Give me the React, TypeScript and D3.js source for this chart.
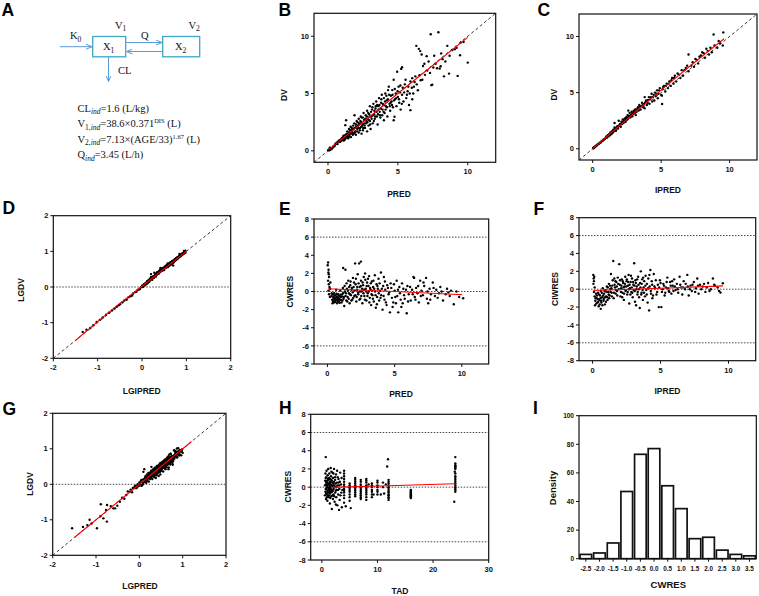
import React from 'react';
import * as d3 from 'd3';

type P = [number, number];

// ---------- DATA ----------
// Panel B: PRED vs DV
const predDV: P[] = [
  [0.028,0.058],[0.05,0.063],[0.063,0.071],[0.071,0.1],[0.079,0.079],[0.105,0.058],[0.126,0.126],[0.129,0.275],[0.148,0.11],[0.17,0.19],[0.178,0.089],[0.18,0.26],[0.22,0.24],[0.25,0.21],[0.275,0.21],[0.31,0.25],[0.355,0.32],[0.4,0.42],[0.45,0.39],[0.5,0.5],[0.54,0.63],[0.63,0.71],[0.71,0.79],[0.79,0.89],[0.83,0.91],[0.89,0.83],[1.0,1.12],
  [1.05,1.0],[1.1,1.3],[1.15,0.95],[1.2,1.1],[1.24,2.24],[1.3,2.67],[1.3,1.2],[1.35,1.5],[1.4,1.3],[1.45,1.1],[1.5,1.6],[1.5,1.9],[1.55,1.4],[1.6,1.8],[1.65,1.2],[1.7,2.0],[1.75,1.6],[1.8,2.2],[1.85,1.5],[1.9,3.1],[1.9,2.0],[1.95,1.7],[2.0,2.3],[2.0,1.4],[2.05,2.6],[2.1,1.9],[2.15,2.2],[2.2,1.6],[2.2,2.8],[2.25,2.4],[2.3,2.0],[2.35,3.0],[2.4,2.5],[2.4,1.5],[2.45,2.2],[2.5,2.9],[2.5,1.8],[2.55,3.3],[2.6,2.4],[2.65,2.0],[2.7,3.1],[2.75,2.6],[2.8,1.7],[2.8,3.5],[2.85,2.8],[2.9,2.2],[2.95,3.2],[3.0,2.6],[3.0,3.9],[3.05,1.9],[3.1,3.0],[3.15,3.6],[3.2,2.4],[3.25,4.1],[3.3,3.2],[3.35,2.8],[3.4,3.7],[3.45,4.3],[3.5,3.0],[3.55,2.3],[3.6,3.9],[3.65,4.6],[3.7,3.4],[3.75,2.9],[3.8,4.2],[3.85,4.9],[3.9,3.6],[3.88,3.1],[3.95,4.0],[4.0,2.67],[4.0,4.6],[4.05,3.3],[4.1,5.0],[4.15,3.9],[4.2,4.4],[4.25,3.0],[4.3,5.3],[4.35,5.6],[4.4,4.1],[4.45,3.5],[4.5,4.8],[4.55,4.3],[4.6,5.3],[4.65,3.8],[4.7,6.2],[4.7,2.67],[4.76,2.97],[4.8,4.5],[4.85,5.0],[4.9,3.9],[4.95,6.9],[5.0,4.7],[5.05,5.6],[5.1,4.2],[5.15,5.1],[5.2,3.6],[5.24,7.15],[5.3,7.3],[5.3,4.9],[5.35,5.5],[5.4,4.3],[5.5,5.8],[5.6,4.6],[5.7,5.2],[5.8,4.0],[5.9,3.55],[5.9,6.05],[6.0,5.5],[6.03,4.5],[6.03,6.34],[6.1,5.0],[6.2,6.0],[6.32,9.16],[6.43,5.29],[6.5,8.9],[6.6,8.7],[6.63,6.16],[6.7,8.4],[6.8,7.4],[6.94,6.63],[7.06,8.26],[7.1,7.0],[7.35,10.17],[7.4,5.73],[7.46,5.78],[7.54,7.27],[7.7,7.6],[7.9,10.35],[7.99,7.18],[8.06,7.38],[8.2,8.0],[8.3,6.5],[8.54,9.16],[8.66,6.74],[8.9,8.8],[9.07,8.87],[9.28,6.54],[9.45,8.34],[9.5,9.45],[9.7,9.5],[10.0,7.7],
  [0.6,0.62],[0.68,0.6],[0.75,0.8],[0.85,0.78],[0.92,1.0],[0.97,0.9],[1.08,1.15],[1.12,0.9],[1.18,1.35],[1.22,1.0],[1.28,1.4],[1.33,1.15],[1.38,1.7],[1.42,1.2],[1.48,1.45],[1.52,1.25],[1.58,1.6],[1.62,2.1],[1.68,1.5],[1.72,1.8],[1.78,1.4],[1.82,1.9],[1.88,2.4],[1.92,1.6],[1.98,2.0],[2.02,2.1],[2.08,1.7],[2.12,2.5],[2.18,2.0],[2.22,2.3],[2.28,1.8],[2.32,2.6],[2.38,2.1],[2.42,2.9],[2.48,2.3],[2.52,2.0],[2.58,2.7],[2.62,2.2],[2.68,2.8],[2.72,2.4],[2.78,3.0],[2.82,2.5],[2.88,3.3],[2.92,2.7],[2.98,3.0],[3.02,2.3],[3.08,3.4],[3.12,2.8],[3.18,3.8],[3.22,3.1],[3.28,2.6],[3.32,3.5],[3.38,3.0],[3.42,3.9],[3.48,3.4],[3.52,4.0],[3.58,3.2],[3.62,3.6],[3.68,4.0],[3.72,3.1],[3.78,3.7],[3.82,4.5],[3.92,4.1],[3.98,3.4],[4.02,4.0],[4.08,4.3],[4.12,3.6],[4.18,4.8],[4.22,3.8],[4.28,4.5],[4.38,4.9],[4.42,3.9],[4.48,4.2],[4.58,4.0],[4.62,4.9],[4.72,4.4],[4.78,5.4],[4.88,4.6],[4.98,5.2],[5.08,4.5],[5.18,5.7],[5.28,4.1],[5.45,5.1],[5.55,6.2],[5.65,4.9],[5.75,5.6],[5.85,5.0],[6.15,5.6],[6.25,6.5],[6.35,5.8],[6.55,6.6],[6.75,6.2],[6.9,7.6],[7.2,7.8],[7.3,6.8],[7.6,8.3],[7.8,7.2],[8.1,8.5],[8.4,7.8],[8.7,8.3],[9.2,9.0]
];
// Panel C: IPRED vs DV
const ipredDV: P[] = [
  [0.046,0.055],[0.056,0.063],[0.068,0.071],[0.08,0.085],[0.095,0.105],[0.112,0.12],[0.13,0.14],[0.155,0.166],[0.18,0.19],[0.21,0.22],[0.24,0.25],[0.27,0.28],[0.3,0.31],[0.32,0.33],[0.36,0.37],[0.4,0.42],[0.45,0.44],[0.5,0.52],[0.55,0.55],[0.6,0.58],[0.63,0.66],[0.7,0.72],[0.75,0.74],[0.8,0.83],[0.85,0.85],[0.9,0.88],[0.95,0.98],
  [1.0,1.05],[1.05,1.0],[1.1,1.2],[1.15,1.1],[1.2,1.3],[1.25,1.2],[1.3,1.45],[1.35,1.3],[1.4,1.55],[1.45,1.4],[1.5,1.7],[1.5,1.5],[1.55,1.6],[1.6,1.9],[1.65,1.7],[1.7,1.6],[1.75,1.9],[1.8,2.0],[1.85,1.8],[1.9,2.5],[1.95,2.1],[2.0,2.2],[2.05,1.95],[2.1,2.4],[2.15,2.2],[2.2,2.6],[2.25,2.3],[2.3,2.5],[2.35,2.7],[2.4,2.4],[2.45,2.8],[2.5,2.6],[2.55,3.0],[2.6,2.7],[2.65,2.9],[2.7,3.2],[2.75,2.8],[2.8,3.0],[2.85,3.3],[2.9,2.9],[2.95,3.1],[3.0,3.4],[3.05,3.2],[3.1,3.5],[3.15,3.0],[3.2,3.3],[3.3,3.7],[3.35,3.4],[3.4,3.9],[3.5,3.5],[3.55,3.8],[3.6,4.1],[3.7,3.7],[3.75,4.0],[3.8,3.6],[3.9,4.3],[3.95,3.9],[4.0,4.1],[4.1,4.6],[4.15,4.0],[4.2,4.4],[4.3,4.9],[4.35,4.2],[4.4,4.6],[4.5,4.3],[4.55,5.0],[4.6,4.7],[4.7,5.2],[4.75,4.5],[4.8,4.9],[4.9,5.4],[5.0,4.8],[5.05,4.73],[5.07,3.98],[5.1,5.3],[5.2,5.6],[5.3,5.1],[5.4,5.8],[5.5,5.4],[5.6,6.0],[5.7,5.6],[5.8,6.3],[5.9,5.8],[6.0,6.5],[6.1,6.0],[6.2,6.7],[6.4,6.3],[6.5,7.0],[6.6,6.5],[6.8,7.2],[7.0,8.4],[7.0,6.9],[7.2,7.4],[7.4,7.3],[7.5,8.0],[7.7,7.6],[7.8,8.2],[8.0,8.6],[8.2,8.1],[8.3,8.9],[8.5,8.4],[8.6,9.0],[8.83,10.18],[8.9,9.2],[9.1,9.0],[9.3,9.4],[9.54,10.36],[9.5,9.2],
  [1.02,1.1],[1.12,1.15],[1.22,1.25],[1.32,1.35],[1.42,1.5],[1.52,1.6],[1.62,1.75],[1.72,1.8],[1.82,1.95],[1.92,2.05],[2.02,2.15],[2.12,2.25],[2.22,2.4],[2.32,2.45],[2.42,2.6],[2.52,2.75],[2.62,2.85],[2.72,2.95],[2.82,3.05],[2.92,3.15],[3.02,3.25],[3.12,3.3],[3.22,3.5],[3.32,3.55],[3.45,3.75],[3.62,3.85],[3.72,3.95],[3.85,4.15],[4.05,4.35],[4.25,4.6],[4.45,4.8],[4.65,4.9],[4.85,5.2],[5.15,5.5],[5.35,5.6],[5.55,5.8],[5.75,6.1],[5.95,6.3],[6.3,6.6],[6.7,7.0],[6.9,7.4],[7.3,7.7],[7.6,7.9],[7.9,8.3],[8.1,8.5],[8.4,8.7],[8.7,8.6],[9.2,9.6],[1.6,2.3],[2.6,3.4],[3.8,4.6]
];
// Panel E: PRED vs CWRES
const predCWRES: P[] = [
  [0.05,3.2],[0.02,2.9],[0.07,2.1],[0.1,1.9],[0.08,2.4],[0.12,1.6],[0.05,1.2],[0.1,0.8],[0.15,0.5],[0.08,0.1],[0.12,-0.3],[0.18,-0.6],[0.2,0.3],[0.22,1.0],
  [0.3,-0.5],[0.35,-0.9],[0.4,-0.3],[0.42,-1.1],[0.45,-0.7],[0.5,-0.2],[0.5,-1.2],[0.55,-0.8],[0.6,-0.4],[0.62,-1.0],[0.65,0.2],[0.7,-0.6],[0.72,-1.3],[0.75,-0.9],[0.8,-0.3],[0.82,-0.7],[0.85,-1.1],[0.9,-0.5],[0.95,0.1],[0.95,-0.9],[1.0,-0.6],[1.05,-1.2],[1.1,-0.3],[1.15,0.4],[1.17,2.6],[1.2,-0.8],[1.25,-1.6],[1.3,0.0],[1.34,2.4],[1.35,-0.5],[1.4,-1.0],[1.45,0.3],[1.5,-0.6],[1.55,1.2],[1.6,-0.2],[1.65,-1.3],[1.7,0.7],[1.75,-0.4],[1.8,0.2],[1.85,-0.9],[1.9,1.5],[1.95,0.5],[2.0,-0.5],[2.06,3.1],[2.1,0.8],[2.15,-1.1],[2.2,0.2],[2.25,1.9],[2.3,-0.3],[2.36,3.1],[2.4,0.5],[2.45,-0.8],[2.49,3.3],[2.5,1.2],[2.55,0.0],[2.6,-1.3],[2.65,0.7],[2.7,1.6],[2.75,-0.5],[2.8,2.0],[2.85,0.3],[2.9,-1.0],[2.95,1.0],[3.0,-0.2],[3.05,0.6],[3.1,1.7],[3.15,-0.7],[3.2,0.2],[3.25,-1.5],[3.3,1.1],[3.35,-0.4],[3.4,0.5],[3.45,-1.1],[3.53,1.8],[3.55,0.0],[3.6,-1.8],[3.65,0.8],[3.7,-0.6],[3.75,0.3],[3.8,1.4],[3.85,-1.0],[3.9,0.1],[3.98,2.1],[4.0,-0.4],[4.1,-2.0],[4.15,0.6],[4.2,1.6],[4.25,-0.9],[4.3,0.2],[4.4,-1.5],[4.5,0.4],[4.55,-0.3],[4.65,-2.3],[4.7,0.9],[4.8,-0.7],[4.9,-1.2],[5.0,0.1],[5.1,-1.3],[5.15,1.2],[5.2,-0.5],[5.27,-2.3],[5.35,0.5],[5.4,-0.2],[5.5,-1.7],[5.6,-1.3],[5.65,0.3],[5.75,-0.8],[5.9,-2.4],[5.95,0.6],[6.05,-0.3],[6.2,-1.0],[6.3,0.2],[6.4,1.6],[6.5,-0.6],[6.6,0.4],[6.7,-0.2],[6.8,-1.2],[6.9,1.2],[7.0,0.1],[7.1,-0.4],[7.2,0.6],[7.34,1.5],[7.4,-0.8],[7.5,-1.3],[7.6,0.3],[7.7,-0.3],[7.84,1.0],[8.0,-0.5],[8.1,0.2],[8.3,-0.2],[8.4,0.5],[8.6,-1.0],[8.8,-0.3],[9.0,-0.1],[9.2,0.1],[9.4,-1.4],[9.6,0.0],[9.8,-0.6],[10.1,-0.75],
  [0.32,-0.2],[0.38,-1.3],[0.44,-0.6],[0.48,-0.95],[0.52,-0.45],[0.58,-1.15],[0.63,-0.65],[0.68,-0.25],[0.73,-0.8],[0.78,-1.1],[0.83,-0.45],[0.88,-0.85],[0.92,-1.25],[0.98,-0.35],[1.02,-0.95],[1.08,-0.55],[1.12,-1.0],[1.18,-0.15],[1.22,-0.6],[1.28,0.6],[1.38,-0.2],[1.42,0.9],[1.48,-1.1],[1.52,0.1],[1.58,-0.8],[1.62,0.5],[1.68,-0.3],[1.72,1.1],[1.78,-1.0],[1.82,0.4],[1.88,-0.1],[1.92,-0.7],[1.98,1.0],[2.02,0.1],[2.08,-0.4],[2.12,1.4],[2.18,-0.6],[2.22,0.5],[2.28,-0.1],[2.32,0.9],[2.38,-0.9],[2.42,0.0],[2.48,0.6],[2.52,-0.5],[2.58,0.3],[2.62,1.0],[2.68,-0.2],[2.72,0.2],[2.78,-0.9],[2.82,1.3],[2.88,0.0],[2.92,0.6],[2.98,-0.5],[3.02,1.4],[3.08,0.0],[3.12,-1.2],[3.18,0.4],[3.22,0.9],[3.28,-0.3],[3.32,0.1],[3.38,-0.8],[3.42,1.2],[3.48,0.3],[3.58,-0.4],[3.68,-1.4],[3.72,0.6],[3.82,-0.2],[3.88,0.9],[3.95,-0.7],[4.05,0.3],[4.18,-0.5],[4.28,1.1],[4.35,-1.2],[4.45,0.7],[4.6,-0.1],[4.75,0.4],[4.85,-1.7],[4.95,0.8],[5.05,-0.6],[5.25,0.2],[5.45,-0.9],[5.55,0.9],[5.7,-0.4],[5.85,0.2],[6.0,-1.1],[6.15,0.5],[6.35,-0.3],[6.45,1.5],[6.55,-0.9],[6.75,0.6],[6.95,-0.5],[7.15,1.0],[7.45,0.0],[7.65,-0.9],[7.9,0.4],[8.2,-0.7],[8.5,0.0],[8.9,0.3],[9.1,-0.5]
];
// Panel F: IPRED vs CIWRES
const ipredCIWRES: P[] = [
  [0.05,1.6],[0.08,1.2],[0.1,0.9],[0.06,0.6],[0.12,1.4],[0.15,0.2],[0.1,-0.3],[0.15,-0.8],[0.2,-1.3],[0.18,-1.8],[0.25,-0.5],
  [0.3,-1.0],[0.35,-1.5],[0.4,-0.4],[0.45,-1.9],[0.5,-1.2],[0.55,-0.7],[0.6,-2.2],[0.6,-0.2],[0.65,-1.5],[0.7,-0.9],[0.75,0.1],[0.8,-1.3],[0.85,-0.5],[0.9,-1.7],[0.95,-0.1],[1.0,-0.8],[1.05,0.3],[1.1,-1.2],[1.15,-0.3],[1.2,0.6],[1.25,-0.7],[1.3,0.0],[1.35,1.7],[1.4,-0.4],[1.45,0.4],[1.52,3.16],[1.55,-1.0],[1.6,1.2],[1.65,0.2],[1.7,-0.5],[1.75,0.8],[1.8,-0.2],[1.85,1.3],[1.96,2.8],[2.0,0.5],[2.05,-0.8],[2.1,0.1],[2.15,1.1],[2.2,-0.4],[2.25,0.7],[2.3,-1.2],[2.35,0.3],[2.4,1.4],[2.45,-0.1],[2.5,0.9],[2.55,-0.6],[2.6,0.4],[2.65,1.6],[2.7,-1.6],[2.75,0.1],[2.8,0.8],[2.85,-0.3],[2.9,1.2],[2.95,-0.9],[3.0,0.5],[3.06,2.9],[3.1,-0.2],[3.15,1.0],[3.2,-1.8],[3.25,0.3],[3.3,-0.6],[3.35,1.4],[3.4,0.0],[3.47,-2.1],[3.5,0.7],[3.55,2.0],[3.6,-0.4],[3.65,1.1],[3.7,-1.2],[3.75,0.2],[3.8,0.9],[3.85,-0.8],[3.9,1.5],[3.95,-0.1],[4.0,0.6],[4.05,-1.5],[4.1,1.2],[4.16,-2.37],[4.2,0.3],[4.25,2.15],[4.3,-0.5],[4.35,0.9],[4.4,-1.0],[4.5,1.7],[4.6,0.1],[4.7,-0.6],[4.8,0.5],[4.87,-2.0],[4.95,1.0],[5.06,-2.0],[5.1,-0.3],[5.2,0.6],[5.3,-0.7],[5.4,0.2],[5.5,1.3],[5.6,-0.2],[5.7,0.8],[5.8,-0.5],[5.9,0.4],[6.0,1.1],[6.1,-0.1],[6.2,0.6],[6.3,-0.4],[6.4,1.4],[6.5,0.2],[6.6,-0.6],[6.7,0.9],[6.8,0.0],[6.97,1.6],[7.07,-0.7],[7.2,0.4],[7.3,-0.2],[7.45,0.8],[7.6,0.1],[7.7,1.2],[7.8,-0.5],[7.9,0.5],[8.1,0.3],[8.3,-0.3],[8.5,0.7],[8.7,0.0],[8.85,1.2],[9.0,0.4],[9.2,0.2],[9.41,-0.37],[9.58,0.67],
  [0.22,-1.0],[0.28,-1.6],[0.32,-0.7],[0.38,-1.1],[0.42,-1.4],[0.48,-0.6],[0.52,-1.7],[0.58,-1.0],[0.62,-1.3],[0.68,-0.4],[0.72,-1.8],[0.78,-0.7],[0.82,-1.1],[0.88,-0.2],[0.92,-0.9],[0.98,-1.4],[1.02,-0.3],[1.08,-0.9],[1.12,0.2],[1.18,-0.6],[1.22,-1.0],[1.28,0.4],[1.32,-0.3],[1.38,0.1],[1.42,-0.8],[1.48,1.0],[1.58,-0.4],[1.62,0.5],[1.68,0.9],[1.72,-0.1],[1.78,0.3],[1.82,-0.7],[1.88,0.6],[1.92,0.0],[2.02,1.0],[2.08,-0.3],[2.12,0.4],[2.18,-0.9],[2.22,0.9],[2.28,0.2],[2.32,-0.5],[2.38,0.6],[2.42,-0.2],[2.48,0.3],[2.52,1.1],[2.58,-0.3],[2.62,0.8],[2.68,0.0],[2.72,0.5],[2.78,-0.6],[2.82,1.5],[2.88,0.2],[2.92,-0.4],[2.98,0.8],[3.02,-0.1],[3.08,0.4],[3.12,-1.4],[3.18,0.7],[3.22,0.0],[3.28,1.1],[3.32,-0.3],[3.38,0.5],[3.42,-0.9],[3.52,0.2],[3.58,-0.6],[3.62,0.6],[3.68,-0.1],[3.72,1.3],[3.78,-0.4],[3.88,0.4],[3.98,-0.6],[4.08,0.1],[4.18,1.6],[4.28,-0.2],[4.38,0.5],[4.45,-0.7],[4.55,0.3],[4.65,1.0],[4.75,-0.3],[4.9,0.2],[5.0,0.7],[5.15,0.0],[5.25,0.4],[5.35,-0.4],[5.45,0.8],[5.55,0.1],[5.65,-0.3],[5.75,0.4],[5.85,0.9],[5.95,-0.2],[6.05,0.3],[6.25,0.0],[6.45,0.5],[6.65,0.2],[6.85,0.6],[7.0,0.3],[7.15,0.0],[7.35,0.5],[7.55,-0.3],[7.75,0.4],[8.0,0.0],[8.2,0.6],[8.4,0.2],[8.6,-0.2],[8.95,0.5],[9.3,-0.2]
];
// Panel H: TAD vs CWRES
const tadCWRES: P[] = [
  [0.6,0.2],[0.65,-0.5],[0.7,3.3],[0.7,1.0],[0.75,-1.3],[0.8,0.5],[0.8,-0.2],[0.85,1.8],[0.9,-0.8],[0.9,0.0],[0.95,0.7],[1.0,-1.5],[1.0,-0.4],[1.05,1.3],[1.1,0.3],[1.1,-0.9],[1.15,2.0],[1.2,-0.1],[1.2,0.8],[1.25,-1.1],[1.3,0.4],[1.3,-0.6],[1.35,1.5],[1.4,-0.3],[1.4,0.1],[1.45,-1.8],[1.5,0.9],[1.5,-0.7],[1.55,0.5],[1.6,2.1],[1.6,-0.2],[1.65,1.2],[1.7,-1.0],[1.75,0.2],[1.8,-2.4],[1.8,0.7],[1.85,-0.5],[1.9,1.6],[1.95,0.0],[2.0,-1.3],[2.0,1.0],[2.05,0.4],[2.1,-0.8],[2.2,2.0],[2.25,0.2],[2.3,-1.6],[2.4,0.8],[2.5,-0.4],[2.55,1.4],[2.6,-1.1],[2.7,0.5],[2.8,-2.0],[2.85,1.1],[2.9,-0.3],[3.0,0.9],[3.1,-2.5],[3.1,0.2],[3.2,-1.4],[3.3,1.6],[3.5,-0.6],[3.6,-2.2],
  [0.55,-0.9],[0.6,0.7],[0.65,1.5],[0.7,-0.2],[0.72,0.3],[0.78,-0.7],[0.82,1.1],[0.88,0.2],[0.92,-1.1],[0.98,0.5],[1.02,0.0],[1.08,-0.6],[1.12,0.9],[1.18,-0.3],[1.22,0.3],[1.28,-0.9],[1.32,1.0],[1.38,-0.5],[1.42,0.6],[1.48,-0.1],[1.52,-1.2],[1.58,0.3],[1.62,-0.5],[1.68,0.8],[1.72,1.7],[1.78,-0.3],[1.82,0.1],[1.88,-0.9],[1.92,0.5],[1.98,-0.4],[2.02,0.2],[2.08,1.5],[2.12,-0.2],[2.18,0.6],[2.22,-1.0],[2.28,0.0],[2.35,1.1],[2.42,-0.6],[2.48,0.4],[2.52,-1.9],[2.58,0.0],[2.65,-0.3],[2.75,1.8],[2.82,0.2],[2.95,-0.8],[3.02,0.5],[3.15,-0.2],[3.25,0.6],[3.35,-0.9],[3.45,0.3],[3.55,1.0],[3.7,-0.3],
  [4.0,1.8],[4.0,1.5],[4.0,1.2],[4.0,0.9],[4.0,0.6],[4.0,0.3],[4.0,0.1],[4.0,-0.2],[4.0,-0.4],[4.0,-0.6],[4.0,-0.9],[4.0,-1.2],[4.0,-1.7],[4.3,-2.1],
  [5.0,0.4],[5.0,0.2],[5.0,0.0],[5.0,-0.1],[5.0,-0.3],[5.0,-0.5],[5.0,-0.8],[5.0,-1.1],[5.2,-2.3],[5.0,-1.5],
  [6.0,1.0],[6.0,0.8],[6.0,0.6],[6.0,0.4],[6.0,0.2],[6.0,0.0],[6.0,-0.2],[6.0,-0.4],[6.0,-0.6],[6.0,-0.8],[6.0,-1.0],
  [7.0,0.8],[7.0,0.6],[7.0,0.3],[7.0,0.1],[7.0,-0.1],[7.0,-0.3],[7.0,-0.5],[7.0,-0.7],[7.0,-0.9],[7.0,-1.1],[7.0,-1.3],
  [8.0,0.9],[8.0,0.7],[8.0,0.5],[8.0,0.2],[8.0,0.0],[8.0,-0.2],[8.0,-0.4],[8.0,-0.6],[8.0,-0.8],[8.0,-1.1],[8.0,-1.4],[8.4,0.3],
  [9.0,0.4],[9.0,0.2],[9.0,0.0],[9.0,-0.3],[9.0,-0.5],[9.0,-0.8],[9.0,-1.1],[9.3,-0.8],
  [10.0,0.7],[10.0,0.5],[10.0,0.2],[10.0,0.0],[10.0,-0.3],[10.0,-0.5],[10.0,-0.8],[10.6,-0.8],
  [11.0,0.5],[11.0,0.0],[11.2,-0.7],[11.5,0.3],
  [11.75,2.26],[11.9,3.07],[12.0,0.8],[12.0,0.6],[12.0,0.4],[12.0,0.2],[12.0,0.0],[12.0,-0.1],[12.0,-0.3],[12.0,-0.5],[12.0,-0.6],[12.0,-0.8],[12.0,-0.9],[12.0,-1.1],[12.0,-1.2],[12.0,-1.4],
  [16.0,-0.3],[16.0,-0.4],[16.0,-0.5],[16.0,-0.6],[16.0,-0.7],[16.0,-0.8],[16.0,-0.9],[16.0,-1.0],[16.0,-1.1],[16.0,-1.2],
  [24.0,3.3],[24.0,2.6],[24.0,2.4],[24.0,2.3],[24.0,2.2],[24.0,2.1],[24.0,2.0],[23.9,1.7],[24.0,1.5],[24.0,1.2],[24.0,1.0],[24.0,0.8],[24.0,0.6],[24.0,0.4],[24.0,0.2],[24.0,0.0],[24.0,-0.2],[24.0,-0.3],[24.0,-0.5],[23.8,-1.6]
];

// Smooth (red) trend lines
const smoothB: P[] = [[0.05,0.1],[2,2.0],[5,5.0],[10,9.9]];
const smoothC: P[] = [[0.0,0.0],[3,3.15],[6,6.25],[9.6,9.8]];
const smoothD: P[] = [[-1.5,-1.5],[-0.5,-0.46],[0,0.02],[1.0,1.0]];
const smoothG: P[] = [[-1.5,-1.5],[0,0],[1.2,1.2]];
const smoothE: P[] = [[0.05,0.3],[5,0.0],[10,-0.35]];
const smoothF: P[] = [[0.05,-0.15],[5,0.1],[9.6,0.37]];
const smoothH: P[] = [[1.6,-0.02],[12,0.15],[24,0.38]];

// Histogram (panel I)
const histCenters = [-2.5,-2.0,-1.5,-1.0,-0.5,0.0,0.5,1.0,1.5,2.0,2.5,3.0,3.5];
const histDensity = [3,4,11,47,73,77,51,35,14,15,6,3,2];

// Ticks
const ticksLin = [0,5,10];
const ticksLog = [-2,-1,0,1,2];
const ticksRes = [-8,-6,-4,-2,0,2,4,6,8];
const ticksTAD = [0,10,20,30];
const ticksDensity = [0,20,40,60,80,100];

// ---------- DRAWING ----------
const SANS = "'Liberation Sans', Arial, Helvetica, sans-serif";
const SERIF = "'Liberation Serif', 'Times New Roman', serif";

type Box = [number, number, number, number];

interface PanelProps {
  id: string;
  box: Box;
  xDomain: [number, number];
  yDomain: [number, number];
  xTicks: number[];
  yTicks: number[];
  points: P[];
  smooth: P[];
  diag?: boolean;
  hLines?: number[];
  xLabel: string; xLabelPos: [number, number];
  yLabel: string; yLabelPos: [number, number];
  letter: string; letterPos: [number, number];
}

function Frame({ box, x, y, xTicks, yTicks, fmt, tickSize }: any) {
  const [l, t, r, b] = box;
  return (
    <g>
      <rect x={l} y={t} width={r - l} height={b - t} fill="none" stroke="#111" strokeWidth={1.2} />
      {xTicks.map((v: number) => (
        <g key={'x' + v}>
          <line x1={x(v)} x2={x(v)} y1={b} y2={b + 3} stroke="#111" strokeWidth={1} />
          <text x={x(v)} y={b + 12} textAnchor="middle" fontSize={tickSize} fontWeight="bold" fontFamily={SANS} fill="#111">{fmt(v)}</text>
        </g>
      ))}
      {yTicks.map((v: number) => (
        <g key={'y' + v}>
          <line x1={l - 3} x2={l} y1={y(v)} y2={y(v)} stroke="#111" strokeWidth={1} />
          <text x={l - 5} y={y(v) + tickSize * 0.35} textAnchor="end" fontSize={tickSize} fontWeight="bold" fontFamily={SANS} fill="#111">{fmt(v)}</text>
        </g>
      ))}
    </g>
  );
}

function Titles({ xLabel, xLabelPos, yLabel, yLabelPos, letter, letterPos, size = 8.5 }: any) {
  return (
    <g fontFamily={SANS} fill="#111">
      <text x={xLabelPos[0]} y={xLabelPos[1]} textAnchor="middle" fontSize={size} fontWeight="bold">{xLabel}</text>
      <text transform={`translate(${yLabelPos[0]},${yLabelPos[1]}) rotate(-90)`} textAnchor="middle" fontSize={size} fontWeight="bold">{yLabel}</text>
      <text x={letterPos[0]} y={letterPos[1]} fontSize={17.5} fontWeight="bold" fill="#000">{letter}</text>
    </g>
  );
}

function Panel(p: PanelProps) {
  const [l, t, r, b] = p.box;
  const x = d3.scaleLinear().domain(p.xDomain).range([l, r]);
  const y = d3.scaleLinear().domain(p.yDomain).range([b, t]);
  const line = d3.line<P>().x(d => x(d[0])).y(d => y(d[1])).curve(d3.curveMonotoneX);
  const lo = Math.min(p.xDomain[0], p.yDomain[0]);
  const hi = Math.max(p.xDomain[1], p.yDomain[1]);
  return (
    <g>
      <defs>
        <clipPath id={p.id}><rect x={l} y={t} width={r - l} height={b - t} /></clipPath>
      </defs>
      <g clipPath={`url(#${p.id})`}>
        {(p.hLines || []).map(v => (
          <line key={v} x1={l} x2={r} y1={y(v)} y2={y(v)} stroke="#333" strokeWidth={0.9} strokeDasharray="1.5,1.5" />
        ))}
        {p.diag && (
          <line x1={x(lo)} y1={y(lo)} x2={x(hi)} y2={y(hi)} stroke="#222" strokeWidth={0.9} strokeDasharray="3,2.5" />
        )}
        {p.points.map((d, i) => (
          <circle key={i} cx={x(d[0])} cy={y(d[1])} r={1.2} fill="#000" />
        ))}
        <path d={line(p.smooth) || ''} fill="none" stroke="#ff0000" strokeWidth={1.1} />
      </g>
      <Frame box={p.box} x={x} y={y} xTicks={p.xTicks} yTicks={p.yTicks} fmt={(v: number) => String(v)} tickSize={7.5} />
      <Titles {...p} />
    </g>
  );
}

function Histogram() {
  const box: Box = [579, 415.7, 756.3, 558.7];
  const [l, t, r, b] = box;
  const x = d3.scaleLinear().domain([-2.75, 3.75]).range([l, r]);
  const y = d3.scaleLinear().domain([0, 100]).range([b, t]);
  const bw = x(0.5) - x(0);
  return (
    <g>
      {histCenters.map((c, i) => (
        <rect key={i} x={x(c) - bw / 2 + 1} y={y(histDensity[i])} width={bw - 2} height={b - y(histDensity[i])}
          fill="#fff" stroke="#111" strokeWidth={1.7} />
      ))}
      <rect x={l} y={t} width={r - l} height={b - t} fill="none" stroke="#111" strokeWidth={1.2} />
      {histCenters.map(v => (
        <g key={'x' + v}>
          <line x1={x(v)} x2={x(v)} y1={b} y2={b + 3} stroke="#111" strokeWidth={1} />
          <text x={x(v)} y={b + 12} textAnchor="middle" fontSize={6.3} fontWeight="bold" fontFamily={SANS} fill="#111">{v.toFixed(1)}</text>
        </g>
      ))}
      {ticksDensity.map(v => (
        <g key={'y' + v}>
          <line x1={l - 3} x2={l} y1={y(v)} y2={y(v)} stroke="#111" strokeWidth={1} />
          <text x={l - 5} y={y(v) + 2.3} textAnchor="end" fontSize={6.5} fontWeight="bold" fontFamily={SANS} fill="#111">{v}</text>
        </g>
      ))}
      <Titles xLabel="CWRES" xLabelPos={[668.3, 587.7]} yLabel="Density" yLabelPos={[556, 488]} letter="I" letterPos={[533, 414]} size={9.5} />
    </g>
  );
}

function PanelA() {
  const box = "#3ea6c6";
  const arrow = "#5b9bd5";
  const fs = 10.5;
  const sub = { fontSize: 7.5, dy: 2.5 } as any;
  return (
    <g fontFamily={SERIF} fill="#111">
      <defs>
        <marker id="arr" viewBox="0 0 6 6" refX="6" refY="3" markerWidth="6" markerHeight="6" orient="auto" markerUnits="userSpaceOnUse">
          <path d="M0,0.5 L6,3 L0,5.5" fill="none" stroke={arrow} strokeWidth={1} />
        </marker>
      </defs>
      <text x={1.5} y={16} fontFamily={SANS} fontSize={17.5} fontWeight="bold" fill="#000">A</text>
      <rect x={92.7} y={36.5} width={33} height={20.3} fill="none" stroke={box} strokeWidth={1.3} />
      <rect x={162.7} y={36.5} width={37} height={20.3} fill="none" stroke={box} strokeWidth={1.3} />
      <line x1={60} y1={46.7} x2={92} y2={46.7} stroke={arrow} strokeWidth={1} markerEnd="url(#arr)" />
      <line x1={126.3} y1={42.5} x2={162} y2={42.5} stroke={arrow} strokeWidth={1} markerEnd="url(#arr)" />
      <line x1={162.7} y1={51.5} x2={126.5} y2={51.5} stroke={arrow} strokeWidth={1} markerEnd="url(#arr)" />
      <line x1={108.5} y1={57} x2={108.5} y2={81.5} stroke={arrow} strokeWidth={1} markerEnd="url(#arr)" />
      <text x={115} y={28.5} fontSize={fs}>V<tspan {...sub}>1</tspan></text>
      <text x={188.5} y={28.5} fontSize={fs}>V<tspan {...sub}>2</tspan></text>
      <text x={70} y={39} fontSize={fs}>K<tspan {...sub}>0</tspan></text>
      <text x={141} y={39} fontSize={fs}>Q</text>
      <text x={118} y={73.5} fontSize={fs}>CL</text>
      <text x={103} y={50} fontSize={fs}>X<tspan {...sub}>1</tspan></text>
      <text x={175} y={50} fontSize={fs}>X<tspan {...sub}>2</tspan></text>

      <text x={77.5} y={111.5} fontSize={fs}>CL<tspan fontSize={7.5} dy={2.5} fontStyle="italic">ind</tspan><tspan dy={-2.5}>=1.6 (L/kg)</tspan></text>
      <text x={77.5} y={127} fontSize={fs}>V<tspan fontSize={7.5} dy={2.5}>1,</tspan><tspan fontSize={7.5} fontStyle="italic">ind</tspan><tspan dy={-2.5}>=38.6×0.371</tspan><tspan fontSize={6.5} dy={-4}>DIS</tspan><tspan dy={4}> (L)</tspan></text>
      <text x={77.5} y={142.5} fontSize={fs}>V<tspan fontSize={7.5} dy={2.5}>2,</tspan><tspan fontSize={7.5} fontStyle="italic">ind</tspan><tspan dy={-2.5}>=7.13×(AGE/33)</tspan><tspan fontSize={6.5} dy={-4}>1.67</tspan><tspan dy={4}> (L)</tspan></text>
      <text x={77.5} y={158} fontSize={fs}>Q<tspan fontSize={7.5} dy={2.5} fontStyle="italic">ind</tspan><tspan dy={-2.5}>=3.45 (L/h)</tspan></text>
    </g>
  );
}

export default function App() {
  const logPRED_DV: P[] = predDV.map(d => [Math.log10(d[0]), Math.log10(d[1])] as P);
  const logIPRED_DV: P[] = ipredDV.map(d => [Math.log10(d[0]), Math.log10(d[1])] as P);
  return (
    <svg width={759} height={596} viewBox="0 0 759 596"
      style={{ position: 'absolute', left: 0, top: 0, background: '#fff' }}>
      <rect x={0} y={0} width={759} height={596} fill="#fff" />
      <PanelA />
      <Panel id="cB" box={[314, 13.3, 495.7, 162.3]} xDomain={[-1, 12]} yDomain={[-1, 12]} xTicks={ticksLin} yTicks={ticksLin}
        points={predDV} smooth={smoothB} diag xLabel="PRED" xLabelPos={[399, 196.5]} yLabel="DV" yLabelPos={[287, 95]}
        letter="B" letterPos={[278.5, 16]} />
      <Panel id="cC" box={[579, 14, 757, 160]} xDomain={[-1, 12]} yDomain={[-1, 12]} xTicks={ticksLin} yTicks={ticksLin}
        points={ipredDV} smooth={smoothC} diag xLabel="IPRED" xLabelPos={[668, 193.3]} yLabel="DV" yLabelPos={[556.5, 94.7]}
        letter="C" letterPos={[537.5, 16]} />
      <Panel id="cD" box={[53.3, 215.7, 230.7, 358.3]} xDomain={[-2, 2]} yDomain={[-2, 2]} xTicks={ticksLog} yTicks={ticksLog}
        points={logIPRED_DV} smooth={smoothD} diag hLines={[0]} xLabel="LGIPRED" xLabelPos={[141.7, 394]} yLabel="LGDV" yLabelPos={[24, 290]}
        letter="D" letterPos={[2.5, 214]} />
      <Panel id="cE" box={[314, 219, 488.7, 364]} xDomain={[-1, 12]} yDomain={[-8, 8]} xTicks={ticksLin} yTicks={ticksRes}
        points={predCWRES} smooth={smoothE} hLines={[6, 0, -6]} xLabel="PRED" xLabelPos={[401, 396.5]} yLabel="CWRES" yLabelPos={[292.5, 291.7]}
        letter="E" letterPos={[279, 215]} />
      <Panel id="cF" box={[579, 217.7, 755.7, 360.7]} xDomain={[-1, 12]} yDomain={[-8, 8]} xTicks={ticksLin} yTicks={ticksRes}
        points={ipredCIWRES} smooth={smoothF} hLines={[6, 0, -6]} xLabel="IPRED" xLabelPos={[667.5, 394]} yLabel="CIWRES" yLabelPos={[557.5, 289]}
        letter="F" letterPos={[533.5, 215]} />
      <Panel id="cG" box={[52.7, 413.3, 226, 555.3]} xDomain={[-2, 2]} yDomain={[-2, 2]} xTicks={ticksLog} yTicks={ticksLog}
        points={logPRED_DV} smooth={smoothG} diag hLines={[0]} xLabel="LGPRED" xLabelPos={[140, 589]} yLabel="LGDV" yLabelPos={[32.5, 484]}
        letter="G" letterPos={[2.5, 415]} />
      <Panel id="cH" box={[310.7, 414.3, 488.7, 560]} xDomain={[-2, 30]} yDomain={[-8, 8]} xTicks={ticksTAD} yTicks={ticksRes}
        points={tadCWRES} smooth={smoothH} hLines={[6, 0, -6]} xLabel="TAD" xLabelPos={[400, 594]} yLabel="CWRES" yLabelPos={[290.5, 486.7]}
        letter="H" letterPos={[279, 414]} />
      <Histogram />
    </svg>
  );
}
